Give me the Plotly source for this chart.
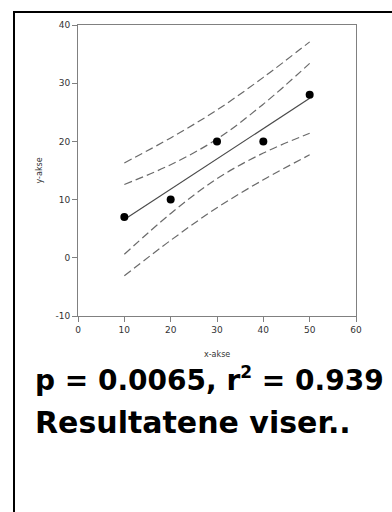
import plotly.graph_objects as go

# Data
x_points = [10, 20, 30, 40, 50]
y_points = [7, 10, 20, 20, 28]
fit_y = [6.6, 11.8, 17.0, 22.2, 27.4]
ci_upper = [12.6, 16.0, 20.4, 26.4, 33.4]
ci_lower = [0.6, 7.6, 13.6, 18.0, 21.4]
pi_upper = [16.3, 20.6, 25.4, 31.0, 37.1]
pi_lower = [-3.1, 3.0, 8.6, 13.4, 17.7]
x_ticks = [0, 10, 20, 30, 40, 50, 60]
x_tick_labels = ["0", "10", "20", "30", "40", "50", "60"]
y_ticks = [-10, 0, 10, 20, 30, 40]
y_tick_labels = ["-10", "0", "10", "20", "30", "40"]
stats_text = "p = 0.0065, r<sup><span style='font-size:17px'>2</span></sup> = 0.939"
body_text = "Resultatene viser.."

W, H = 392, 512
L, R, T, B = 78, 36, 25, 196
pw, ph = W - L - R, H - T - B


def px(xp):
    return (xp - L) / pw


def py(yp):
    return (H - B - yp) / ph


fig = go.Figure()

dash_style = dict(color="#6a6a6a", width=1.2, dash="8px,4px", shape="spline")
for band in (pi_upper, ci_upper, ci_lower, pi_lower):
    fig.add_trace(go.Scatter(x=x_points, y=band, mode="lines", line=dash_style,
                             hoverinfo="skip", showlegend=False))

fig.add_trace(go.Scatter(x=[x_points[0], x_points[-1]], y=[fit_y[0], fit_y[-1]],
                         mode="lines", line=dict(color="#4a4a4a", width=1.2),
                         showlegend=False))
fig.add_trace(go.Scatter(x=x_points, y=y_points, mode="markers",
                         marker=dict(color="black", size=8), showlegend=False))

tick_font = dict(family="DejaVu Sans", size=9, color="#333333")
axis_common = dict(showline=True, linecolor="#808080", linewidth=1, mirror=True,
                   ticks="outside", ticklen=5, tickcolor="#808080", tickwidth=1,
                   showgrid=False, zeroline=False, tickfont=tick_font)

fig.update_xaxes(range=[0, 60], tickvals=x_ticks, ticktext=x_tick_labels, **axis_common)
fig.update_yaxes(range=[-10, 40], tickvals=y_ticks, ticktext=y_tick_labels, **axis_common)

fig.update_layout(
    width=W, height=H,
    margin=dict(l=L, r=R, t=T, b=B, pad=0),
    plot_bgcolor="white", paper_bgcolor="white",
    showlegend=False,
    shapes=[dict(type="rect", xref="paper", yref="paper",
                 x0=px(14), x1=px(420), y0=py(540), y1=py(12),
                 line=dict(color="black", width=2), layer="above")],
    annotations=[
        dict(text="x-akse", xref="paper", yref="paper", x=0.5, y=py(354),
             xanchor="center", yanchor="middle", showarrow=False,
             font=dict(family="DejaVu Sans", size=8, color="#333333")),
        dict(text="y-akse", xref="paper", yref="paper", x=px(39), y=0.5,
             xanchor="center", yanchor="middle", showarrow=False, textangle=-90,
             font=dict(family="DejaVu Sans", size=8, color="#333333")),
        dict(text="<b>" + stats_text + "</b>", xref="paper", yref="paper",
             x=px(33), y=py(379), xanchor="left", yanchor="middle", showarrow=False,
             font=dict(family="DejaVu Sans", size=28, color="black")),
        dict(text="<b>" + body_text + "</b>", xref="paper", yref="paper",
             x=px(33), y=py(422), xanchor="left", yanchor="middle", showarrow=False,
             font=dict(family="DejaVu Sans", size=30, color="black")),
    ],
)

fig.write_html("out.html")
